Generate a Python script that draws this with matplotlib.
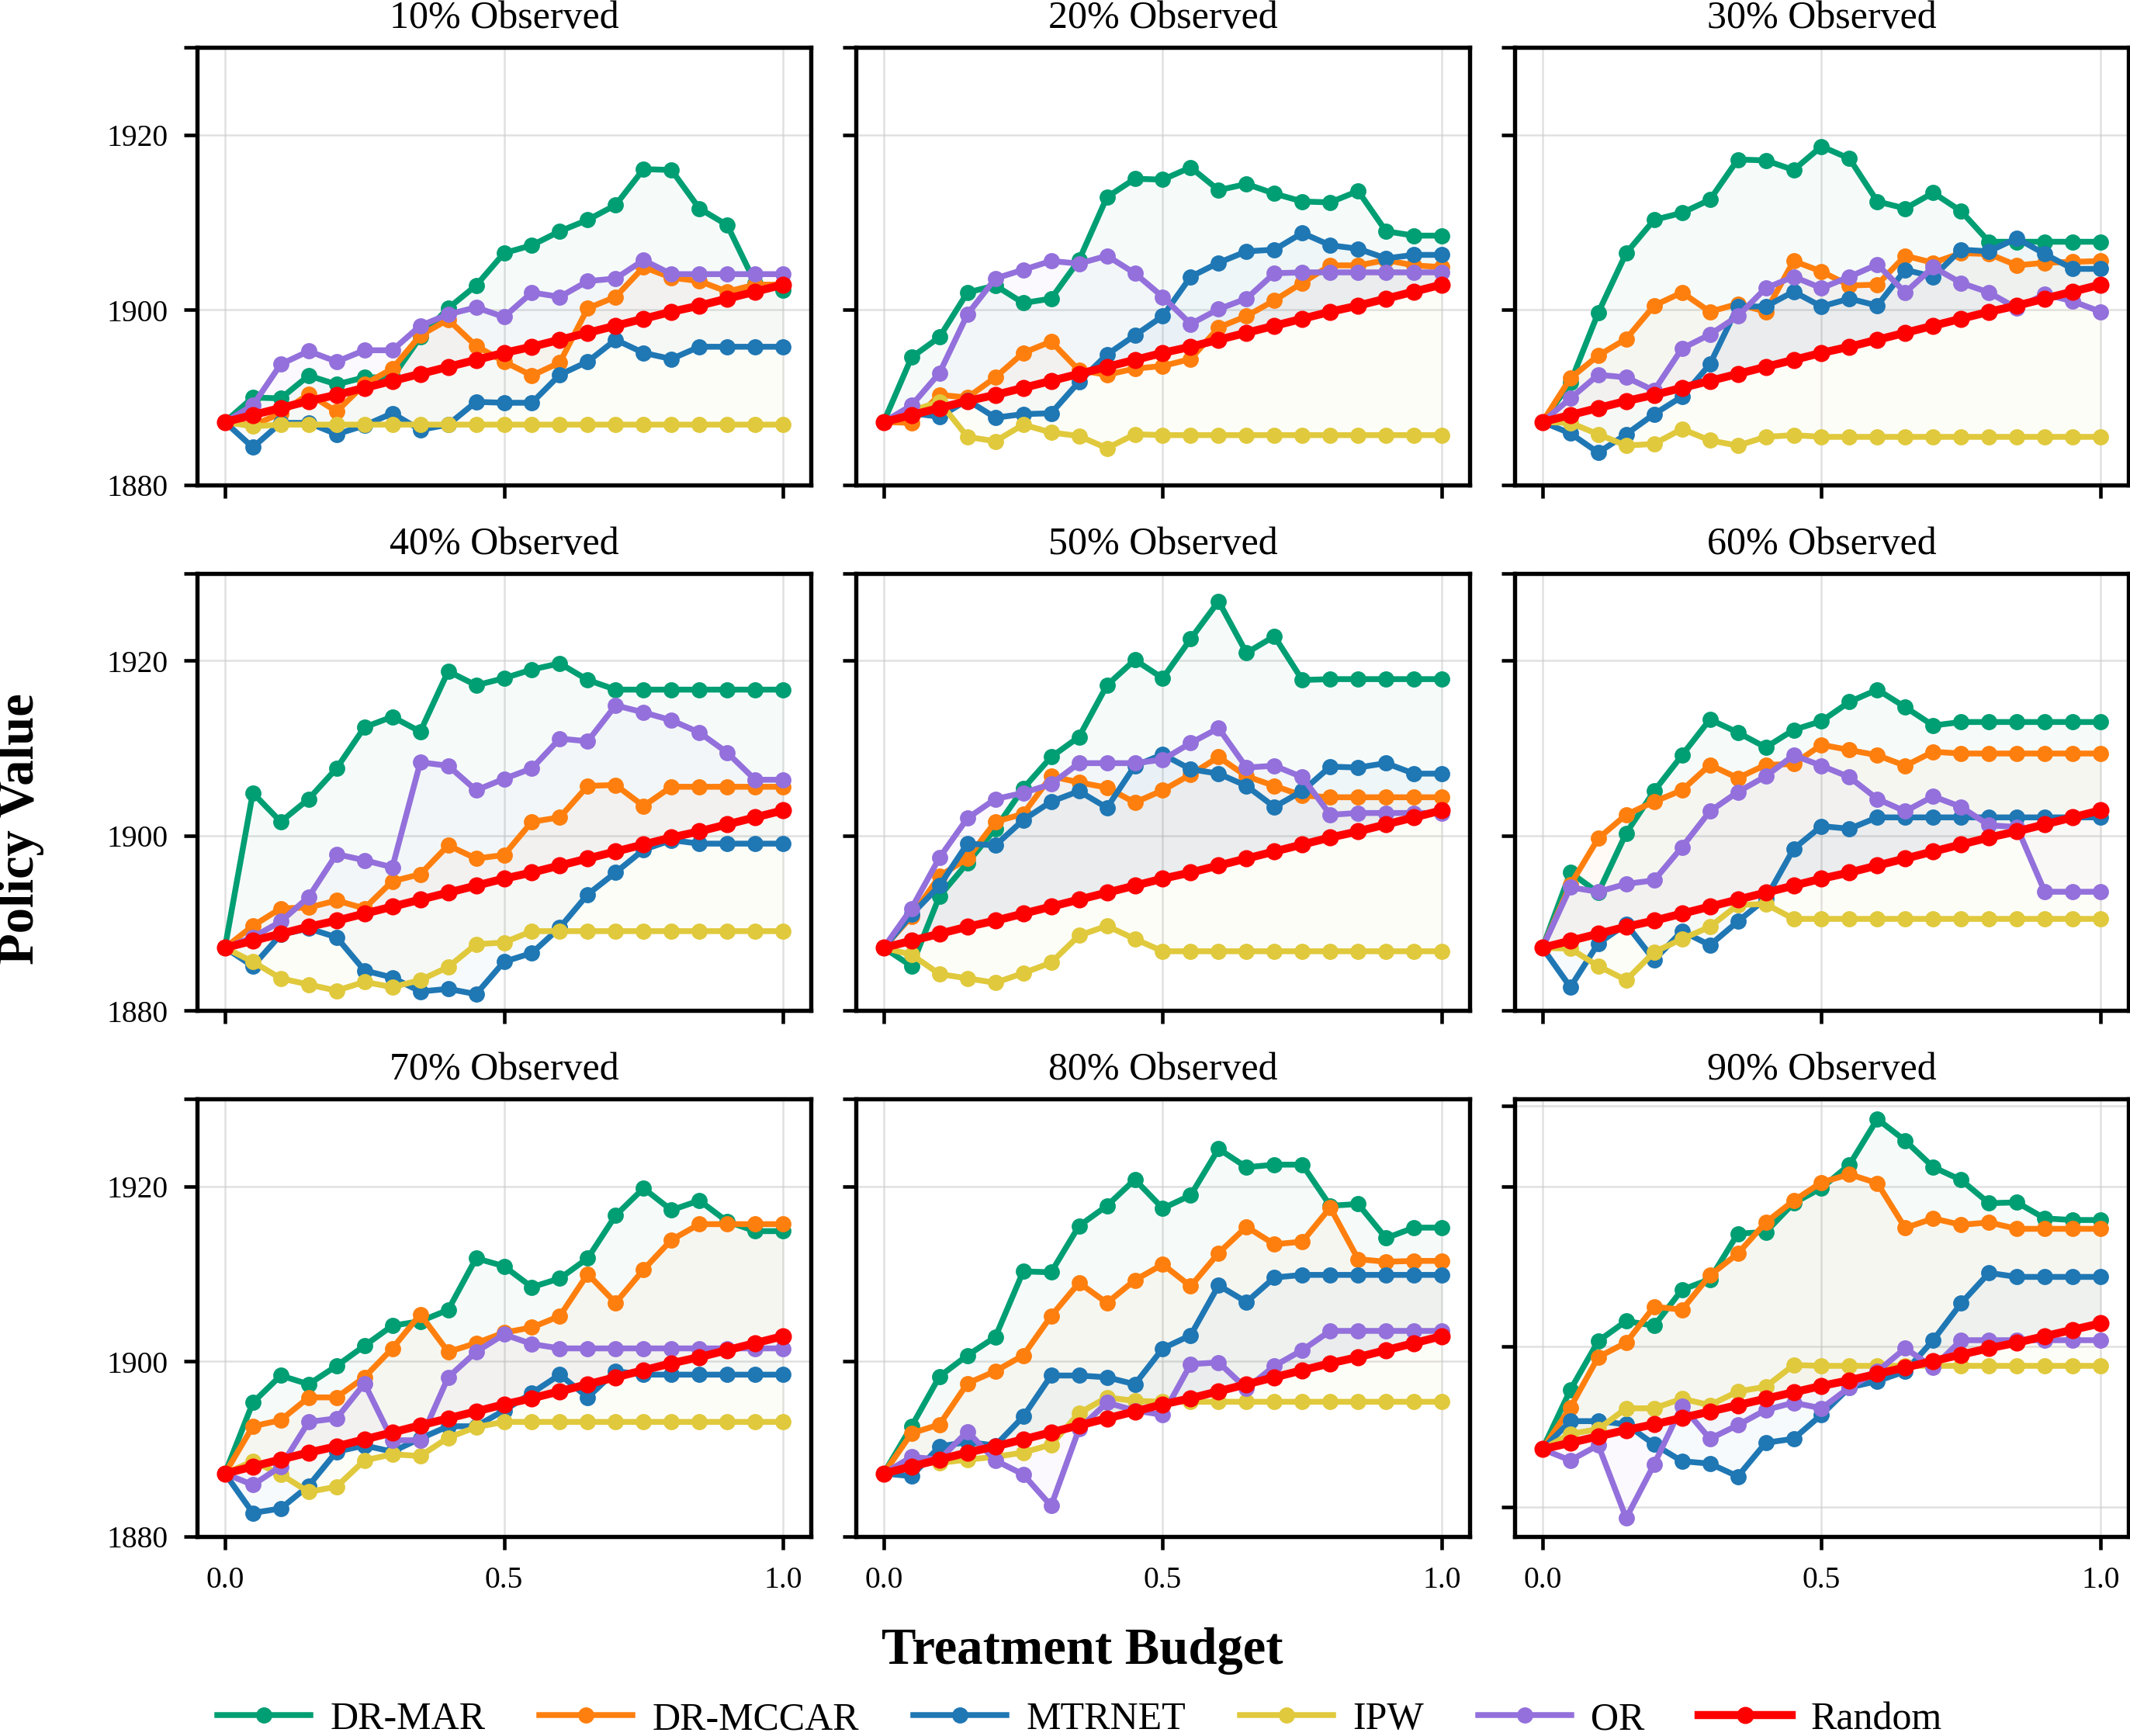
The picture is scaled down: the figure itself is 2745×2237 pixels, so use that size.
import matplotlib
matplotlib.use("Agg")
import matplotlib.pyplot as plt

plt.rcParams['font.family'] = ['Liberation Serif', 'DejaVu Serif']

budget = [0.0, 0.05, 0.1, 0.15, 0.2, 0.25, 0.3, 0.35, 0.4, 0.45, 0.5,
          0.55, 0.6, 0.65, 0.7, 0.75, 0.8, 0.85, 0.9, 0.95, 1.0]

panel_titles = ['10% Observed', '20% Observed', '30% Observed',
                '40% Observed', '50% Observed', '60% Observed',
                '70% Observed', '80% Observed', '90% Observed']

random_policy = [1887.2, 1888.0, 1888.8, 1889.6, 1890.3, 1891.1, 1891.9, 1892.7, 1893.5, 1894.3, 1895.1,
                 1895.8, 1896.6, 1897.4, 1898.2, 1899.0, 1899.8, 1900.5, 1901.3, 1902.1, 1902.9]

dr_mar = [
    [1887.2, 1890.0, 1889.9, 1892.5, 1891.5, 1892.3, 1892.3, 1896.9, 1900.2, 1902.8, 1906.5, 1907.4, 1909.0, 1910.3, 1912.0, 1916.1, 1916.0, 1911.6, 1909.7, 1903.1, 1902.3],
    [1887.2, 1894.6, 1896.9, 1902.0, 1902.8, 1900.8, 1901.3, 1905.7, 1912.9, 1915.0, 1914.9, 1916.3, 1913.7, 1914.4, 1913.3, 1912.4, 1912.3, 1913.6, 1909.0, 1908.5, 1908.5],
    [1887.2, 1891.7, 1899.7, 1906.5, 1910.3, 1911.1, 1912.6, 1917.2, 1917.1, 1916.0, 1918.7, 1917.3, 1912.4, 1911.6, 1913.4, 1911.3, 1907.8, 1907.8, 1907.8, 1907.8, 1907.8],
    [1887.2, 1904.9, 1901.6, 1904.2, 1907.7, 1912.4, 1913.6, 1911.9, 1918.8, 1917.2, 1918.0, 1919.0, 1919.7, 1917.8, 1916.7, 1916.7, 1916.7, 1916.7, 1916.7, 1916.7, 1916.7],
    [1887.2, 1885.1, 1893.1, 1896.9, 1900.8, 1905.4, 1909.0, 1911.3, 1917.2, 1920.1, 1918.0, 1922.5, 1926.8, 1920.9, 1922.8, 1917.8, 1917.9, 1917.9, 1917.9, 1917.9, 1917.9],
    [1887.2, 1895.8, 1893.5, 1900.3, 1905.1, 1909.2, 1913.3, 1911.8, 1910.1, 1912.1, 1913.1, 1915.3, 1916.7, 1914.7, 1912.6, 1913.0, 1913.0, 1913.0, 1913.0, 1913.0, 1913.0],
    [1887.2, 1895.3, 1898.4, 1897.4, 1899.5, 1901.8, 1904.1, 1904.6, 1905.9, 1911.8, 1910.9, 1908.5, 1909.5, 1911.8, 1916.7, 1919.8, 1917.3, 1918.4, 1916.0, 1914.9, 1914.9],
    [1887.2, 1892.6, 1898.3, 1900.7, 1902.8, 1910.3, 1910.2, 1915.5, 1917.8, 1920.8, 1917.5, 1919.0, 1924.3, 1922.2, 1922.5, 1922.5, 1917.8, 1918.0, 1914.1, 1915.3, 1915.3],
    [1887.2, 1894.6, 1900.7, 1903.2, 1902.6, 1907.1, 1908.4, 1914.1, 1914.3, 1917.9, 1919.8, 1922.7, 1928.4, 1925.7, 1922.4, 1920.8, 1917.9, 1918.0, 1916.0, 1915.8, 1915.8],
]

dr_mccar = [
    [1887.2, 1886.8, 1888.2, 1890.4, 1888.4, 1891.5, 1893.3, 1897.1, 1898.9, 1895.9, 1894.1, 1892.5, 1894.0, 1900.2, 1901.5, 1904.9, 1903.7, 1903.3, 1902.1, 1902.9, 1902.9],
    [1887.2, 1887.1, 1890.3, 1890.0, 1892.3, 1895.1, 1896.4, 1893.1, 1892.6, 1893.3, 1893.6, 1894.4, 1898.0, 1899.3, 1901.1, 1903.1, 1905.1, 1905.1, 1905.7, 1905.1, 1904.9],
    [1887.2, 1892.2, 1894.8, 1896.7, 1900.5, 1902.0, 1899.8, 1900.7, 1899.8, 1905.6, 1904.4, 1902.8, 1902.9, 1906.2, 1905.4, 1906.5, 1906.4, 1905.1, 1905.4, 1905.5, 1905.6],
    [1887.2, 1889.7, 1891.7, 1891.8, 1892.6, 1891.7, 1894.8, 1895.6, 1898.9, 1897.4, 1897.8, 1901.6, 1902.1, 1905.7, 1905.8, 1903.4, 1905.6, 1905.6, 1905.6, 1905.6, 1905.6],
    [1887.2, 1890.8, 1895.4, 1897.4, 1901.6, 1902.5, 1906.8, 1906.1, 1905.5, 1903.8, 1905.2, 1907.0, 1909.0, 1906.8, 1905.7, 1904.6, 1904.4, 1904.4, 1904.4, 1904.4, 1904.4],
    [1887.2, 1894.4, 1899.7, 1902.4, 1903.9, 1905.2, 1908.1, 1906.6, 1908.1, 1908.2, 1910.4, 1909.8, 1909.2, 1908.0, 1909.6, 1909.4, 1909.4, 1909.4, 1909.4, 1909.4, 1909.4],
    [1887.2, 1892.6, 1893.3, 1895.9, 1895.9, 1898.2, 1901.5, 1905.4, 1901.1, 1902.1, 1903.3, 1903.9, 1905.2, 1910.0, 1906.7, 1910.5, 1913.9, 1915.7, 1915.7, 1915.7, 1915.7],
    [1887.2, 1891.8, 1892.8, 1897.5, 1898.9, 1900.7, 1905.2, 1909.0, 1906.7, 1909.3, 1911.1, 1908.6, 1912.4, 1915.4, 1913.4, 1913.7, 1917.6, 1911.7, 1911.4, 1911.5, 1911.5],
    [1887.2, 1892.4, 1898.7, 1900.5, 1905.0, 1904.6, 1908.9, 1911.6, 1915.5, 1918.2, 1920.5, 1921.5, 1920.4, 1914.8, 1916.0, 1915.2, 1915.5, 1914.7, 1914.7, 1914.7, 1914.7],
]

mtrnet = [
    [1887.2, 1884.3, 1887.1, 1887.1, 1885.8, 1886.8, 1888.2, 1886.3, 1886.9, 1889.5, 1889.4, 1889.4, 1892.6, 1894.1, 1896.6, 1895.1, 1894.4, 1895.8, 1895.8, 1895.8, 1895.8],
    [1887.2, 1888.2, 1887.8, 1889.7, 1887.7, 1888.1, 1888.2, 1891.8, 1894.9, 1897.1, 1899.3, 1903.8, 1905.4, 1906.7, 1906.9, 1908.8, 1907.4, 1907.0, 1905.9, 1906.3, 1906.3],
    [1887.2, 1885.9, 1883.7, 1885.8, 1888.1, 1890.1, 1893.8, 1900.4, 1900.4, 1902.1, 1900.4, 1901.3, 1900.5, 1904.6, 1903.8, 1906.9, 1906.7, 1908.2, 1906.4, 1904.7, 1904.7],
    [1887.2, 1885.1, 1888.7, 1889.4, 1888.4, 1884.6, 1883.8, 1882.2, 1882.5, 1881.9, 1885.6, 1886.6, 1889.5, 1893.3, 1895.8, 1898.4, 1899.5, 1899.1, 1899.1, 1899.1, 1899.1],
    [1887.2, 1891.0, 1894.3, 1899.1, 1898.9, 1901.8, 1903.9, 1905.1, 1903.2, 1908.0, 1909.3, 1907.6, 1907.1, 1905.7, 1903.3, 1905.1, 1907.9, 1907.8, 1908.3, 1907.1, 1907.1],
    [1887.2, 1882.7, 1887.7, 1889.9, 1885.8, 1889.1, 1887.5, 1890.2, 1892.8, 1898.5, 1901.1, 1900.8, 1902.1, 1902.1, 1902.1, 1902.1, 1902.1, 1902.1, 1902.1, 1902.1, 1902.1],
    [1887.2, 1882.7, 1883.2, 1885.8, 1889.7, 1890.4, 1889.7, 1891.2, 1892.6, 1892.6, 1894.4, 1896.4, 1898.5, 1895.9, 1898.9, 1898.5, 1898.5, 1898.5, 1898.5, 1898.5, 1898.5],
    [1887.2, 1886.9, 1890.3, 1890.8, 1890.4, 1893.7, 1898.4, 1898.4, 1898.2, 1897.4, 1901.5, 1903.0, 1908.7, 1906.8, 1909.6, 1909.9, 1909.9, 1909.9, 1909.9, 1909.9, 1909.9],
    [1887.2, 1890.7, 1890.7, 1890.3, 1887.8, 1885.7, 1885.4, 1883.8, 1888.0, 1888.5, 1891.5, 1894.9, 1895.7, 1896.9, 1900.8, 1905.4, 1909.2, 1908.7, 1908.7, 1908.7, 1908.7],
]

ipw = [
    [1887.2, 1886.7, 1886.9, 1886.9, 1886.9, 1886.9, 1886.9, 1886.9, 1886.9, 1886.9, 1886.9, 1886.9, 1886.9, 1886.9, 1886.9, 1886.9, 1886.9, 1886.9, 1886.9, 1886.9, 1886.9],
    [1887.2, 1888.5, 1889.5, 1885.5, 1885.0, 1886.9, 1886.0, 1885.6, 1884.2, 1885.8, 1885.7, 1885.7, 1885.7, 1885.7, 1885.7, 1885.7, 1885.7, 1885.7, 1885.7, 1885.7, 1885.7],
    [1887.2, 1887.1, 1885.8, 1884.5, 1884.7, 1886.4, 1885.1, 1884.5, 1885.5, 1885.7, 1885.5, 1885.5, 1885.5, 1885.5, 1885.5, 1885.5, 1885.5, 1885.5, 1885.5, 1885.5, 1885.5],
    [1887.2, 1885.6, 1883.7, 1883.0, 1882.3, 1883.3, 1882.7, 1883.5, 1885.0, 1887.6, 1887.8, 1889.1, 1889.1, 1889.1, 1889.1, 1889.1, 1889.1, 1889.1, 1889.1, 1889.1, 1889.1],
    [1887.2, 1886.4, 1884.2, 1883.7, 1883.2, 1884.3, 1885.5, 1888.6, 1889.7, 1888.2, 1886.8, 1886.8, 1886.8, 1886.8, 1886.8, 1886.8, 1886.8, 1886.8, 1886.8, 1886.8, 1886.8],
    [1887.2, 1887.1, 1885.1, 1883.5, 1886.7, 1888.2, 1889.6, 1892.1, 1892.2, 1890.5, 1890.5, 1890.5, 1890.5, 1890.5, 1890.5, 1890.5, 1890.5, 1890.5, 1890.5, 1890.5, 1890.5],
    [1887.2, 1888.6, 1887.1, 1885.1, 1885.7, 1888.7, 1889.4, 1889.2, 1891.3, 1892.5, 1893.1, 1893.1, 1893.1, 1893.1, 1893.1, 1893.1, 1893.1, 1893.1, 1893.1, 1893.1, 1893.1],
    [1887.2, 1888.4, 1888.4, 1888.8, 1889.1, 1889.6, 1890.5, 1894.1, 1895.9, 1895.5, 1895.4, 1895.4, 1895.4, 1895.4, 1895.4, 1895.4, 1895.4, 1895.4, 1895.4, 1895.4, 1895.4],
    [1887.2, 1889.1, 1889.7, 1892.3, 1892.3, 1893.5, 1892.7, 1894.4, 1895.0, 1897.7, 1897.6, 1897.6, 1897.6, 1897.6, 1897.6, 1897.6, 1897.6, 1897.6, 1897.6, 1897.6, 1897.6],
]

or_model = [
    [1887.2, 1889.1, 1893.8, 1895.3, 1894.1, 1895.4, 1895.4, 1898.2, 1899.5, 1900.3, 1899.2, 1902.0, 1901.5, 1903.3, 1903.6, 1905.7, 1904.1, 1904.1, 1904.1, 1904.1, 1904.1],
    [1887.2, 1889.1, 1892.8, 1899.5, 1903.6, 1904.6, 1905.6, 1905.3, 1906.2, 1904.2, 1901.5, 1898.4, 1900.1, 1901.3, 1904.2, 1904.3, 1904.3, 1904.3, 1904.3, 1904.3, 1904.3],
    [1887.2, 1889.9, 1892.6, 1892.3, 1890.8, 1895.6, 1897.2, 1899.3, 1902.5, 1903.8, 1902.5, 1903.8, 1905.2, 1902.0, 1904.9, 1903.1, 1902.0, 1900.2, 1901.8, 1901.0, 1899.8],
    [1887.2, 1888.4, 1890.2, 1893.0, 1897.9, 1897.2, 1896.4, 1908.4, 1908.0, 1905.2, 1906.5, 1907.7, 1911.1, 1910.8, 1914.9, 1914.1, 1913.2, 1911.8, 1909.5, 1906.4, 1906.4],
    [1887.2, 1891.7, 1897.5, 1902.0, 1904.2, 1904.9, 1905.9, 1908.3, 1908.3, 1908.3, 1908.7, 1910.6, 1912.3, 1907.8, 1908.0, 1906.7, 1902.4, 1902.6, 1902.6, 1902.6, 1902.6],
    [1887.2, 1894.1, 1893.6, 1894.5, 1894.9, 1898.7, 1902.8, 1905.0, 1906.8, 1909.2, 1908.0, 1906.7, 1904.2, 1902.8, 1904.5, 1903.3, 1901.2, 1901.0, 1893.6, 1893.6, 1893.6],
    [1887.2, 1885.9, 1888.0, 1893.1, 1893.5, 1897.5, 1891.0, 1891.0, 1898.2, 1901.1, 1903.1, 1902.0, 1901.5, 1901.5, 1901.5, 1901.5, 1901.5, 1901.5, 1901.5, 1901.5, 1901.5],
    [1887.2, 1889.1, 1888.8, 1892.0, 1888.7, 1887.1, 1883.5, 1892.3, 1895.3, 1894.4, 1893.9, 1899.7, 1899.9, 1896.9, 1899.5, 1901.3, 1903.5, 1903.5, 1903.5, 1903.5, 1903.5],
    [1887.2, 1885.8, 1887.7, 1878.6, 1885.3, 1892.6, 1888.5, 1890.2, 1892.1, 1893.0, 1892.3, 1894.9, 1896.9, 1899.8, 1897.4, 1900.8, 1900.8, 1900.8, 1900.8, 1900.8, 1900.8],
]

method_names = ['DR-MAR', 'DR-MCCAR', 'MTRNET', 'IPW', 'OR']
method_colors = ['#009E73', '#FF7F0E', '#1F77B4', '#E0C93C', '#9370DB']
method_data = [dr_mar, dr_mccar, mtrnet, ipw, or_model]
random_name = 'Random'
random_color = '#FF0000'

fig, axes = plt.subplots(3, 3, figsize=(9.15, 7.457), dpi=300)
fig.subplots_adjust(left=0.0925, right=0.9993, top=0.9726, bottom=0.1149,
                    wspace=0.073, hspace=0.2017)

for k, ax in enumerate(axes.flat):
    for name, col, data in zip(method_names, method_colors, method_data):
        ax.fill_between(budget, data[k], random_policy, color=col, alpha=0.035, lw=0)
    for name, col, data in zip(method_names, method_colors, method_data):
        ax.plot(budget, data[k], color=col, lw=1.8, marker='o', ms=4.0, label=name)
    ax.plot(budget, random_policy, color=random_color, lw=2.5, marker='o', ms=4.3, label=random_name)

    ax.set_xlim(-0.05, 1.05)
    ax.set_xticks([0.0, 0.5, 1.0])
    ax.set_yticks([1880, 1900, 1920, 1930])
    if k == 8:
        ax.set_ylim(1876.3, 1930.9)
    else:
        ax.set_ylim(1880, 1930)
    ax.grid(True, color='#cccccc', alpha=0.6, lw=0.6)
    ax.set_axisbelow(True)
    for sp in ax.spines.values():
        sp.set_linewidth(1.3)
        sp.set_color('black')
    ax.tick_params(direction='out', length=4, width=1.1, pad=5, labelsize=9.5)
    ax.set_title(panel_titles[k], fontsize=12, pad=6)
    if k % 3 == 0:
        ax.set_yticklabels(['1880', '1900', '1920', ''])
    else:
        ax.tick_params(labelleft=False)
    if k >= 6:
        ax.set_xticklabels(['0.0', '0.5', '1.0'])
    else:
        ax.tick_params(labelbottom=False)

fig.text(0.0096, 0.5226, 'Policy Value', rotation=90, fontsize=16, fontweight='bold',
         ha='center', va='center')
fig.text(0.508, 0.049, 'Treatment Budget', fontsize=16, fontweight='bold',
         ha='center', va='center')

handles, labels = axes[0, 0].get_legend_handles_labels()
fig.legend(handles, labels, loc='center', bbox_to_anchor=(0.507, 0.0095), ncol=6,
           frameon=False, fontsize=12, handlelength=2.4, handletextpad=0.5,
           columnspacing=1.4, borderaxespad=0, borderpad=0)

fig.savefig('out.png', dpi=300)
